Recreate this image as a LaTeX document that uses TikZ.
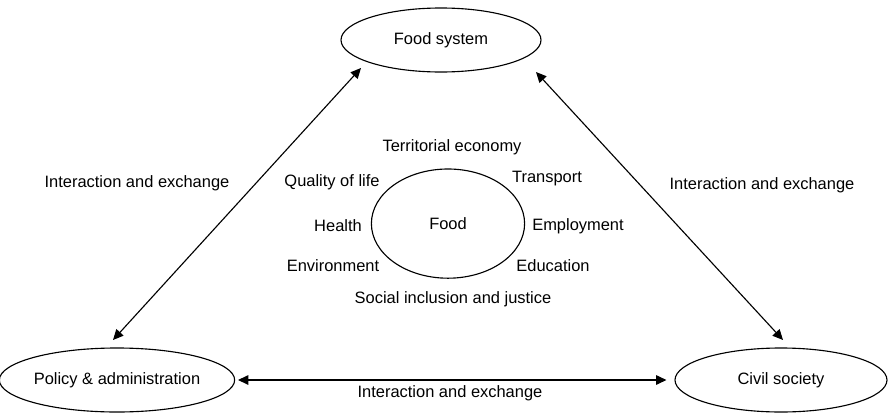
\documentclass[tikz,border=0pt]{standalone}
\usepackage{fontspec}
\setmainfont{Liberation Sans}
\usepackage{tikz}
\usetikzlibrary{positioning, arrows.meta, shapes.geometric}

\begin{document}
\begin{tikzpicture}[
      oval/.style={draw, ellipse, line width=0.8pt, inner sep=0pt,
        font=\fontsize{11.7}{14}\selectfont},
      lbl/.style={font=\fontsize{11.7}{14}\selectfont, inner sep=1pt},
      arr/.style={{Triangle[length=2.6mm, width=2.4mm]}-{Triangle[length=2.6mm, width=2.4mm]}, line width=0.8pt}
    ]
    \useasboundingbox (0,0) rectangle (22.2,10.35);
    % outer actors
    \node[oval, minimum width=5cm, minimum height=1.6cm] (fs) at (11.025,9.35) {Food system};
    \node[oval, minimum width=5.65cm, minimum height=1.6cm] (pa) at (2.925,0.85) {Policy \& administration};
    \node[oval, minimum width=5.3cm, minimum height=1.6cm] (cs) at (19.525,0.85) {Civil society};
    % centre
    \node[oval, minimum width=3.83cm, minimum height=2.73cm] (food) at (11.2,4.76) {Food};
    \node[lbl] (terr) at (11.3,6.675) {Territorial economy};
    \node[lbl] (qual) at (8.3,5.8)    {Quality of life};
    \node[lbl] (trans) at (13.675,5.875) {Transport};
    \node[lbl] (health) at (8.45,4.7)  {Health};
    \node[lbl] (empl) at (14.45,4.7)   {Employment};
    \node[lbl] (env) at (8.325,3.7)    {Environment};
    \node[lbl] (edu) at (13.825,3.7)   {Education};
    \node[lbl] (soc) at (11.325,2.875) {Social inclusion and justice};
    % links
    \draw[arr] ([shift={(-0.1,1.0)}]pa.center) -- ([shift={(-2.0,-0.7)}]fs.center);
    \draw[arr] ([shift={(2.375,-0.8)}]fs.center) -- ([shift={(0.05,1.0)}]cs.center);
    \draw[arr, shorten <=2pt, shorten >=0.2cm] (pa.east) -- (cs.west);
    \node[lbl] (ieleft) at (3.425,5.775) {Interaction and exchange};
    \node[lbl] (ieright) at (19.05,5.725) {Interaction and exchange};
    \node[lbl] (iebottom) at (11.25,0.525) {Interaction and exchange};
  \end{tikzpicture}
\end{document}
